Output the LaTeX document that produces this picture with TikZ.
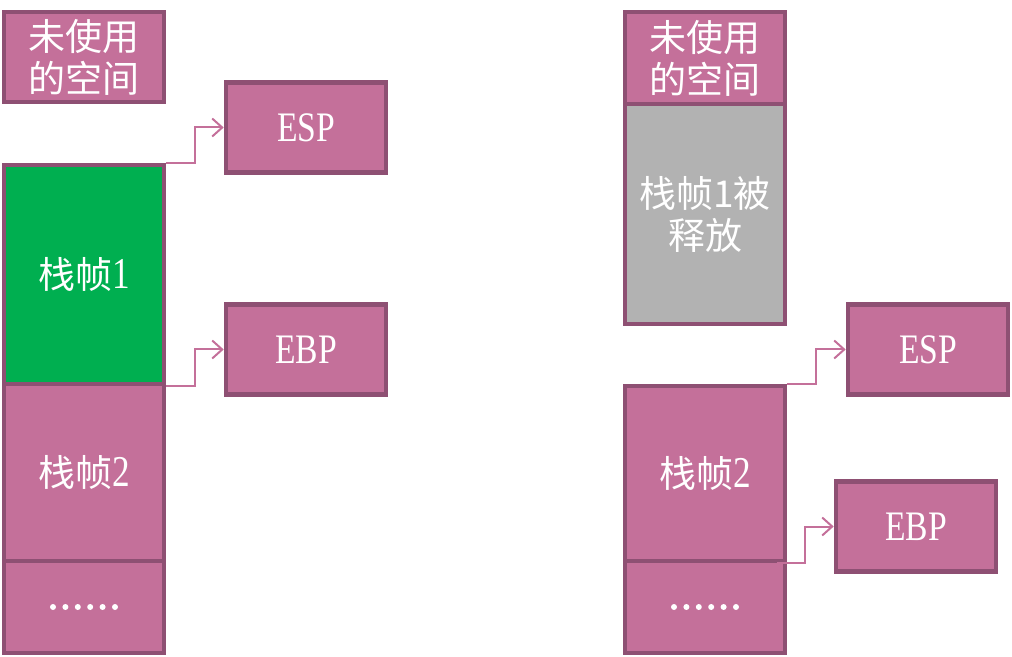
\documentclass[tikz,border=0pt]{standalone}
\usepackage{fontspec}
\usetikzlibrary{arrows.meta}
\setmainfont[FakeStretch=0.8]{Liberation Serif}
\newfontfamily\cjk{Noto Sans CJK SC}
\definecolor{cellpink}{HTML}{C4709A}
\definecolor{cellline}{HTML}{8E5073}
\definecolor{cellgreen}{HTML}{00AF50}
\definecolor{cellgray}{HTML}{B2B2B2}
\newcommand{\bigdigit}[1]{{\fontsize{22}{24}\selectfont #1}}
\newcommand{\dotrow}{\tikz\foreach \i in {0,...,5} \fill[white] (\i*6.2pt,0pt) circle (1.5pt);}
\tikzset{
  cell/.style={draw=cellline, line width=2.3pt, fill=cellpink, text=white,
    minimum width=80pt, inner sep=0pt, align=center,
    font=\fontsize{18.5}{21}\selectfont},
  reg/.style={cell, minimum width=80pt, minimum height=45pt,
    font=\fontsize{21}{24}\selectfont},
  link/.style={draw=cellpink, line width=1pt, -{Straight Barb[length=5pt,width=9pt]}}
}
\begin{document}
\begin{tikzpicture}[x=0.5pt,y=-0.5pt]
\useasboundingbox (0,0) rectangle (1012,657);
% left stack
\node[cell, minimum height=45pt] (freeL) at (84,57) {\cjk 未使用\\\cjk 的空间};
\node[cell, fill=cellgreen, minimum height=109.5pt] (f1L) at (84,274.5) {{\cjk 栈帧}\bigdigit{1}};
\node[cell, minimum height=88.5pt] (f2L) at (84,472.5) {{\cjk 栈帧}\bigdigit{2}};
\node[cell, minimum height=46pt] (dotsL) at (84,607) {\dotrow};
\node[reg] (espL) at (306,127.5) {ESP};
\node[reg] (ebpL) at (306,349.5) {EBP};
\draw[link] (f1L.north east) -- ++(29,0) |- (espL.west);
\draw[link] (f1L.south east) -- ++(29,0) |- (ebpL.west);
% right stack
\node[cell, minimum height=46pt] (freeR) at (705,58) {\cjk 未使用\\\cjk 的空间};
\node[cell, fill=cellgray, minimum height=110pt] (f1R) at (705,214) {\cjk 栈帧1被\\\cjk 释放};
\node[cell, minimum height=87.5pt] (f2R) at (705,473.5) {{\cjk 栈帧}\bigdigit{2}};
\node[cell, minimum height=46pt] (dotsR) at (705,607) {\dotrow};
\node[reg] (espR) at (928,349.5) {ESP};
\node[reg] (ebpR) at (916,526.5) {EBP};
\draw[link] (f2R.north east) -- ++(29,0) |- (espR.west);
\draw[link] ([xshift=-5pt]f2R.south east) -- ++(28,0) |- (ebpR.west);
\end{tikzpicture}
\end{document}
